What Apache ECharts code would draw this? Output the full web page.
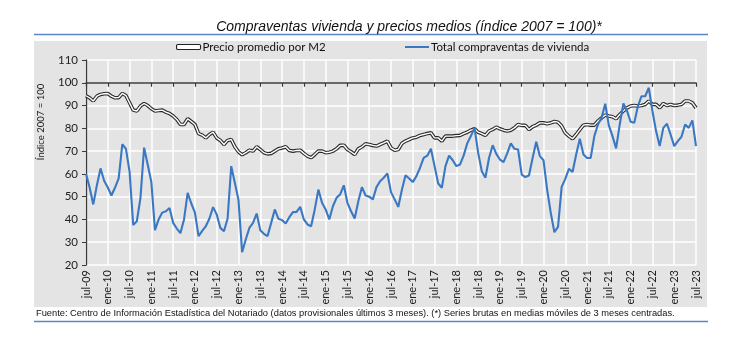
<!DOCTYPE html>
<html>
<head>
<meta charset="utf-8">
<script src="https://cdn.jsdelivr.net/npm/echarts@6/dist/echarts.min.js"></script>
<style>
html,body{margin:0;padding:0;background:#fff;}
#c{width:750px;height:337px;}
</style>
</head>
<body>
<div id="c"></div>
<script>
// ---- data ----
var startYear = 2009, startMonth = 6; // jul-09 (0-based month)
var monthNames = ['ene','feb','mar','abr','may','jun','jul','ago','sep','oct','nov','dic'];
var nPoints = 169; // jul-09 .. jul-23
var categories = [];
for (var k = 0; k < nPoints; k++) {
  var m = (startMonth + k) % 12;
  var y = startYear + Math.floor((startMonth + k) / 12);
  categories.push(monthNames[m] + '-' + String(y).slice(2));
}
var yTicks = [20, 30, 40, 50, 60, 70, 80, 90, 100, 110];

var precioM2 = [
94.3,93.4,92,94.1,94.9,95.2,95.3,94.1,93.4,93.5,95.3,94.4,
91.2,88,87.6,89.8,90.9,90,88.6,87.6,87.8,88,87.1,86.5,
85.4,83.9,81.7,81.7,84.2,83,81.7,77.7,77,75.8,77.3,78.3,
75.8,74.7,72.9,74.7,75.1,71.9,69.7,68.4,69.3,70.4,70,71.9,
70.7,69.3,68.8,69,70,71,71.4,71.9,70.3,70,70.3,70.4,
69,67.8,67.1,68.5,70,70,69.3,69.5,70,71,72.5,72.6,
70.7,69.7,68.5,71,71.9,73.2,72.9,72.5,72.2,72.9,73.6,74.4,
71.4,70.4,70.7,73.4,74.4,75.1,75.8,76.1,76.9,77.3,77.7,78,
75.8,75.8,74.4,76.6,76.6,76.6,76.8,76.9,77.7,78.3,79.2,79.8,
78.3,77.7,76.9,78.8,79.5,80.5,79.8,79.2,78.8,79.2,80.2,81.7,
81.3,81.3,79.5,80.7,81.4,82.4,82.4,82,82.4,83,82.7,81,
78,76.6,75.4,77.3,79.4,81.4,81.7,81.4,81.4,83.2,84.6,85.8,
85.4,85.1,84.2,86.1,87.6,89,89.8,90,89.8,90,90.5,92,
90.5,90.5,89,90.9,90,90.5,90,90.2,90.5,92,92,91.2,
89
];

var totalCompraventas = [
60,54,46.6,55,62.4,57,54,50.5,54,58,73,71,
61,37.6,39.2,49.5,71.5,64,56.4,35.3,40,43,43.6,45,
38.5,36,34,40,51.7,47,43,32.7,35,37,40.4,45.4,
42.2,36.3,34.8,40.4,63.4,56,48.5,25.6,31.2,36.3,38.5,42.6,
35.3,33.7,32.7,38.5,44.4,40.3,39.7,38.2,41,43.2,43.3,45.5,
40,37.8,37,44.4,53.1,47.3,44.4,40,45.8,49.5,51,55,
47.3,43.6,40.4,48,54.2,50.5,50,48.8,54.2,56.8,58.3,60.2,
52,48.8,45.5,53,59.4,58,56.4,59,62.7,67,68,71,
63.4,55.8,53.9,63.4,68,66,63.4,64.1,68,73.4,76.6,80.2,
69.3,61.2,58.3,67,72.6,68.8,66.3,65.2,69,73.4,71,70.7,
59.7,58.6,59.3,67,74.1,67.8,66,53.1,42.9,34.4,36.7,54.3,
57.8,62.2,60.8,68.5,75.4,68.5,67,67,76.6,81.7,84.6,90.8,
81.3,76.6,71.2,81.7,90.9,87.6,82.9,82.4,89.8,94.1,94.1,97.8,
87.6,78.8,72.2,80.2,82,77.3,72.2,74.4,76.3,81.7,80.2,83.5,
72.2
];

var titleText = 'Compraventas vivienda y precios medios (índice 2007 = 100)*';
var yAxisTitle = 'Índice 2007 = 100';
var footerText = 'Fuente: Centro de Información Estadística del Notariado (datos provisionales últimos 3 meses). (*) Series brutas en medias móviles de 3 meses centradas.';
var seriesNames = ['Precio promedio por M2', 'Total compraventas de vivienda'];

// ---- chart ----
var chart = echarts.init(document.getElementById('c'), null, {renderer: 'canvas'});
var LBL = 'Lato, "Open Sans", sans-serif';
var ARIAL = '"Liberation Sans", Arial, sans-serif';
var BLUE = '#3b78c4';
var gridLeft = 86, gridRight = 54, gridTop = 60, gridH = 205;
var yMin = yTicks[0], yMax = yTicks[yTicks.length - 1];

var option = {
  animation: false,
  graphic: [
    {type: 'rect', z: -100, shape: {x: 34, y: 41, width: 673, height: 266}, style: {fill: '#e4e4e4'}},
    {type: 'line', shape: {x1: 34, y1: 34.5, x2: 708, y2: 34.5}, style: {stroke: '#5a86c5', lineWidth: 1.5}},
    {type: 'line', shape: {x1: 34, y1: 321.5, x2: 708, y2: 321.5}, style: {stroke: '#5a86c5', lineWidth: 1.5}},
    {type: 'text', x: 409, y: 27, style: {text: titleText, font: 'italic 14px ' + ARIAL, fill: '#111', textAlign: 'center', textVerticalAlign: 'middle'}},
    {type: 'text', x: 36, y: 313.5, style: {text: footerText, font: '9.3px ' + ARIAL, fill: '#111', textAlign: 'left', textVerticalAlign: 'middle'}},
    {type: 'text', x: 41, y: 122, rotation: Math.PI / 2, style: {text: yAxisTitle, font: '9.5px ' + LBL, fill: '#222', textAlign: 'center', textVerticalAlign: 'middle'}}
  ],
  legend: [
    {left: 176, top: 41, padding: 0, itemWidth: 24, itemHeight: 5, itemGap: 4,
     textStyle: {fontFamily: LBL, fontSize: 11.5, color: '#111', padding: [0, 0, 0, -3]},
     data: [{name: seriesNames[0], icon: 'roundRect', itemStyle: {color: '#fff', borderColor: '#222', borderWidth: 1.1}}]},
    {left: 405, top: 41, padding: 0, itemWidth: 24, itemHeight: 5, itemGap: 4,
     textStyle: {fontFamily: LBL, fontSize: 11.5, color: '#111', padding: [0, 0, 0, -3]},
     data: [{name: seriesNames[1], icon: 'path://M0,0 L24,0 L24,2 L0,2 Z', itemStyle: {color: BLUE}}]}
  ],
  grid: [
    {left: gridLeft, right: gridRight, top: gridTop, height: gridH, containLabel: false},
    {left: gridLeft, right: gridRight, top: gridTop, height: gridH * (yMax - 100) / (yMax - yMin), containLabel: false}
  ],
  xAxis: [
    {type: 'category', gridIndex: 0, data: categories, boundaryGap: false,
     axisLine: {show: false}, axisTick: {show: false},
     axisLabel: {interval: 5, rotate: 90, margin: 5, fontFamily: LBL, fontSize: 11, color: '#222'},
     splitLine: {show: true, interval: 5, lineStyle: {color: '#ffffff', width: 1.5}}},
    {type: 'category', gridIndex: 1, data: categories, boundaryGap: false, position: 'bottom',
     axisLine: {show: true, lineStyle: {color: '#3a3a3a', width: 1.5}},
     axisTick: {show: true, interval: 5, length: 4, lineStyle: {color: '#3a3a3a', width: 1.2}},
     axisLabel: {show: false}, splitLine: {show: false}}
  ],
  yAxis: [
    {type: 'value', gridIndex: 0, min: yMin, max: yMax, interval: 10,
     axisLine: {show: true, lineStyle: {color: '#3a3a3a', width: 1.3}},
     axisTick: {show: true, length: 4, lineStyle: {color: '#3a3a3a'}},
     axisLabel: {margin: 8, fontFamily: LBL, fontSize: 11.5, color: '#222'},
     splitLine: {show: true, lineStyle: {color: '#ffffff', width: 1.5}}},
    {type: 'value', gridIndex: 1, min: 100, max: yMax, show: false}
  ],
  series: [
    {name: seriesNames[0], type: 'line', xAxisIndex: 0, yAxisIndex: 0, data: precioM2,
     showSymbol: false, symbol: 'none', lineStyle: {color: '#2a2a2a', width: 3.6}, itemStyle: {color: '#2a2a2a'}, z: 3},
    {name: 'precio_inner', type: 'line', xAxisIndex: 0, yAxisIndex: 0, data: precioM2,
     showSymbol: false, symbol: 'none', lineStyle: {color: '#ffffff', width: 1.4}, z: 4, legendHoverLink: false},
    {name: seriesNames[1], type: 'line', xAxisIndex: 0, yAxisIndex: 0, data: totalCompraventas,
     showSymbol: false, symbol: 'none', lineStyle: {color: BLUE, width: 2.1}, itemStyle: {color: BLUE}, z: 5}
  ]
};
chart.setOption(option);
</script>
</body>
</html>
